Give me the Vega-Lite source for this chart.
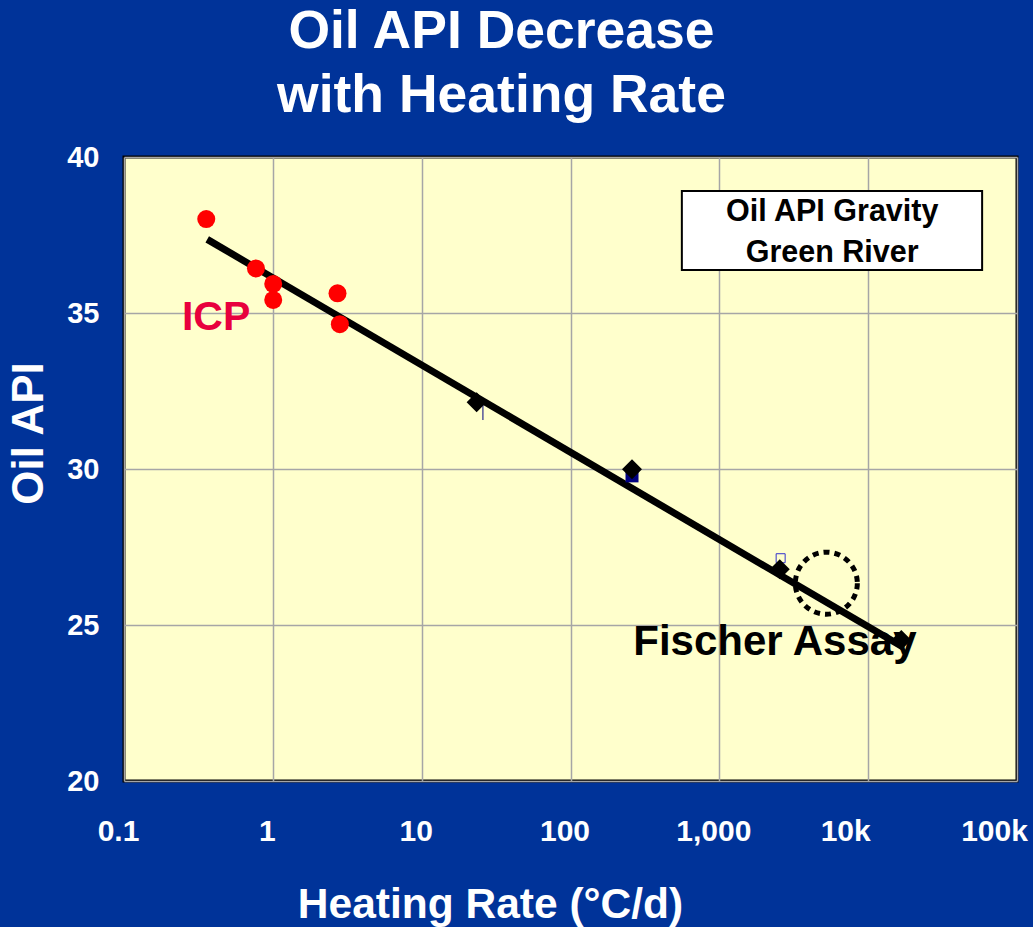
{
  "$schema": "https://vega.github.io/schema/vega-lite/v6.json",
  "width": 893,
  "height": 624,
  "autosize": {"type": "none"},
  "padding": {"left": 124, "top": 157, "right": 16, "bottom": 146},
  "background": "#003399",
  "title": {
    "text": ["Oil API Decrease", "with Heating Rate"],
    "font": "Liberation Sans",
    "fontSize": 53.5,
    "fontWeight": "bold",
    "color": "#FFFFFF",
    "anchor": "middle",
    "dx": -69,
    "lineHeight": 64,
    "offset": 20
  },
  "config": {
    "font": "Liberation Sans",
    "view": {"fill": "#FFFFCC", "stroke": "#000000", "strokeWidth": 3},
    "axis": {
      "domain": false,
      "ticks": false,
      "grid": true,
      "gridColor": "#A6A6A6",
      "gridWidth": 1.5,
      "labelColor": "#FFFFFF",
      "labelFont": "Liberation Sans",
      "labelFontWeight": "bold",
      "titleColor": "#FFFFFF",
      "titleFont": "Liberation Sans",
      "titleFontWeight": "bold"
    }
  },
  "layer": [
    {
      "data": {"values": [{"x1": 560, "x2": 58300, "y1": 38.91, "y2": 36.38}]},
      "mark": {"type": "rect", "fill": "#FFFFFF", "stroke": "#000000", "strokeWidth": 2},
      "encoding": {
        "x": {
          "field": "x1", "type": "quantitative",
          "scale": {"type": "log", "domain": [0.1, 100000], "nice": false},
          "axis": {
            "values": [0.1, 1, 10, 100, 1000, 10000, 100000],
            "labelExpr": "datum.value < 0.5 ? '0.1' : datum.value == 1000 ? '1,000' : datum.value >= 10000 ? format(datum.value / 1000, 'd') + 'k' : format(datum.value, 'd')",
            "labelFontSize": 30,
            "labelPadding": 35,
            "labelFlush": false,
            "labelOverlap": false,
            "labelBound": false,
            "labelOffset": {"condition": {"test": "datum.value >= 10000", "value": -23}, "value": -6},
            "title": "Heating Rate (°C/d)",
            "titleFontSize": 42.5,
            "titleX": 366,
            "titleY": 136,
            "titleAlign": "center",
            "titleBaseline": "alphabetic",
            "titleAnchor": null
          }
        },
        "x2": {"field": "x2"},
        "y": {
          "field": "y1", "type": "quantitative",
          "scale": {"domain": [20, 40], "nice": false, "zero": false},
          "axis": {
            "values": [20, 25, 30, 35, 40],
            "labelFontSize": 29,
            "labelPadding": 25,
            "labelBaseline": "middle",
            "title": "Oil API",
            "titleFontSize": 44,
            "titleAngle": -90,
            "titleX": -95,
            "titleY": 276,
            "titleAlign": "center",
            "titleBaseline": "middle"
          }
        },
        "y2": {"field": "y2"}
      }
    },
    {
      "data": {"values": [
        {"x": 5730, "y": 37.95, "label": "Oil API Gravity"},
        {"x": 5730, "y": 36.63, "label": "Green River"}
      ]},
      "mark": {"type": "text", "align": "center", "baseline": "alphabetic", "fontSize": 30.5, "fontWeight": "bold", "color": "#000000"},
      "encoding": {
        "x": {"field": "x", "type": "quantitative"},
        "y": {"field": "y", "type": "quantitative"},
        "text": {"field": "label"}
      }
    },
    {
      "data": {"values": [{"x": 0.3625, "y": 37.36}, {"x": 17000, "y": 24.3}]},
      "mark": {"type": "line", "color": "#000000", "strokeWidth": 7, "strokeCap": "butt"},
      "encoding": {
        "x": {"field": "x", "type": "quantitative"},
        "y": {"field": "y", "type": "quantitative"}
      }
    },
    {
      "data": {"values": [
        {"x": 0.357, "y": 38.01},
        {"x": 0.77, "y": 36.43},
        {"x": 1.006, "y": 35.93},
        {"x": 1.006, "y": 35.42},
        {"x": 2.72, "y": 35.63},
        {"x": 2.82, "y": 34.64}
      ]},
      "mark": {"type": "point", "shape": "circle", "filled": true, "size": 324, "color": "#FF0000", "opacity": 1},
      "encoding": {
        "x": {"field": "x", "type": "quantitative"},
        "y": {"field": "y", "type": "quantitative"}
      }
    },
    {
      "data": {"values": [{"x": 259, "y": 29.78}]},
      "mark": {"type": "point", "shape": "square", "filled": true, "size": 169, "color": "#000080", "opacity": 1},
      "encoding": {
        "x": {"field": "x", "type": "quantitative"},
        "y": {"field": "y", "type": "quantitative"}
      }
    },
    {
      "data": {"values": [{"x": 2582, "y": 27.14}]},
      "mark": {"type": "point", "shape": "square", "filled": false, "size": 81, "stroke": "#3333CC", "strokeWidth": 1, "opacity": 1},
      "encoding": {
        "x": {"field": "x", "type": "quantitative"},
        "y": {"field": "y", "type": "quantitative"}
      }
    },
    {
      "data": {"values": [{"x": 25.8, "y": 32.1, "y2": 31.57}]},
      "mark": {"type": "rule", "color": "#000080", "strokeWidth": 1},
      "encoding": {
        "x": {"field": "x", "type": "quantitative"},
        "y": {"field": "y", "type": "quantitative"},
        "y2": {"field": "y2"}
      }
    },
    {
      "data": {"values": [
        {"x": 23.4, "y": 32.14},
        {"x": 259, "y": 29.99},
        {"x": 2547, "y": 26.79},
        {"x": 16700, "y": 24.52}
      ]},
      "mark": {"type": "point", "shape": "diamond", "filled": true, "size": 400, "color": "#000000", "opacity": 1},
      "encoding": {
        "x": {"field": "x", "type": "quantitative"},
        "y": {"field": "y", "type": "quantitative"}
      }
    },
    {
      "data": {"values": [{"x": 5236, "y": 26.34}]},
      "mark": {"type": "point", "shape": "circle", "filled": false, "size": 3844, "stroke": "#000000", "strokeWidth": 5, "strokeDash": [6, 5], "opacity": 1},
      "encoding": {
        "x": {"field": "x", "type": "quantitative"},
        "y": {"field": "y", "type": "quantitative"}
      }
    },
    {
      "data": {"values": [{"x": 0.245, "y": 34.46, "label": "ICP"}]},
      "mark": {"type": "text", "align": "left", "baseline": "alphabetic", "fontSize": 41, "fontWeight": "bold", "color": "#E8003D"},
      "encoding": {
        "x": {"field": "x", "type": "quantitative"},
        "y": {"field": "y", "type": "quantitative"},
        "text": {"field": "label"}
      }
    },
    {
      "data": {"values": [{"x": 264, "y": 24.04, "label": "Fischer Assay"}]},
      "mark": {"type": "text", "align": "left", "baseline": "alphabetic", "fontSize": 42, "fontWeight": "bold", "color": "#000000"},
      "encoding": {
        "x": {"field": "x", "type": "quantitative"},
        "y": {"field": "y", "type": "quantitative"},
        "text": {"field": "label"}
      }
    }
  ]
}
